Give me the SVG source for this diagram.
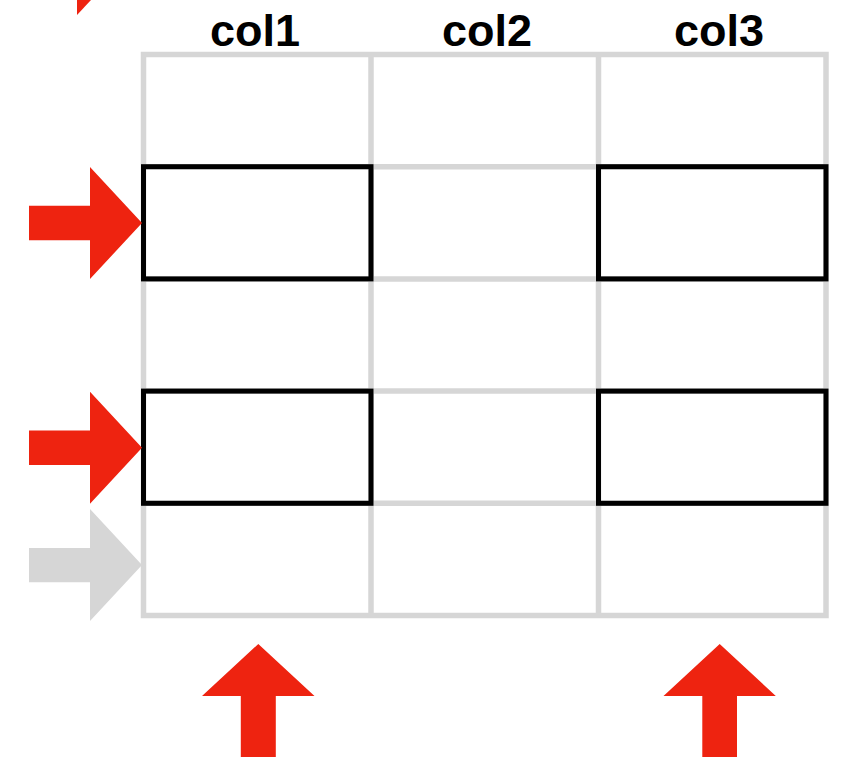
<svg xmlns="http://www.w3.org/2000/svg" width="847" height="757" viewBox="0 0 847 757">
  <style>
    .grid { fill: none; stroke: #d6d6d6; stroke-width: 5.5; }
    .cell { fill: none; stroke: #000000; stroke-width: 5; }
    .label { font-family: "Liberation Sans", Arial, sans-serif; font-weight: bold; font-size: 45px; fill: #000000; text-anchor: middle; }
    .hot { fill: #ee2310; }
    .cold { fill: #d6d6d6; }
  </style>
  <rect width="847" height="757" fill="#ffffff"/>

  <!-- column headers -->
  <g id="headers">
    <text class="label" x="255" y="46">col1</text>
    <text class="label" x="487" y="46">col2</text>
    <text class="label" x="719" y="46">col3</text>
  </g>

  <!-- background grid: 3 columns x 5 rows -->
  <g id="grid" class="grid">
    <rect x="143.5" y="54.5" width="682.5" height="561"/>
    <line x1="371" y1="54.5" x2="371" y2="615.5"/>
    <line x1="598.5" y1="54.5" x2="598.5" y2="615.5"/>
    <line x1="143.5" y1="166.7" x2="826" y2="166.7"/>
    <line x1="143.5" y1="278.9" x2="826" y2="278.9"/>
    <line x1="143.5" y1="391.1" x2="826" y2="391.1"/>
    <line x1="143.5" y1="503.3" x2="826" y2="503.3"/>
  </g>

  <!-- highlighted cells -->
  <g id="cell-r2-c1"><rect class="cell" x="143.5" y="166.7" width="227.5" height="112.2"/></g>
  <g id="cell-r2-c3"><rect class="cell" x="598.5" y="166.7" width="227.5" height="112.2"/></g>
  <g id="cell-r4-c1"><rect class="cell" x="143.5" y="391.1" width="227.5" height="112.2"/></g>
  <g id="cell-r4-c3"><rect class="cell" x="598.5" y="391.1" width="227.5" height="112.2"/></g>

  <!-- block arrows -->
  <g id="connectors">
    <polygon id="corner-arrow" class="hot" points="77,0 91,0 77,15"/>
    <polygon id="row2-arrow" class="hot" points="29,205.7 90,205.7 90,167 142,223 90,279 90,240.3 29,240.3"/>
    <polygon id="row4-arrow" class="hot" points="29,430.5 90,430.5 90,391.7 142,447.7 90,503.7 90,465 29,465"/>
    <polygon id="row5-arrow" class="cold" points="29,548 90,548 90,509 142,565 90,621 90,582.3 29,582.3"/>
    <polygon id="col1-arrow" class="hot" points="258.3,644 314.5,696 275.8,696 275.8,760 240.8,760 240.8,696 202,696"/>
    <polygon id="col3-arrow" class="hot" points="719.7,644 775.8,696 737,696 737,760 702.3,760 702.3,696 663.5,696"/>
  </g>
</svg>
